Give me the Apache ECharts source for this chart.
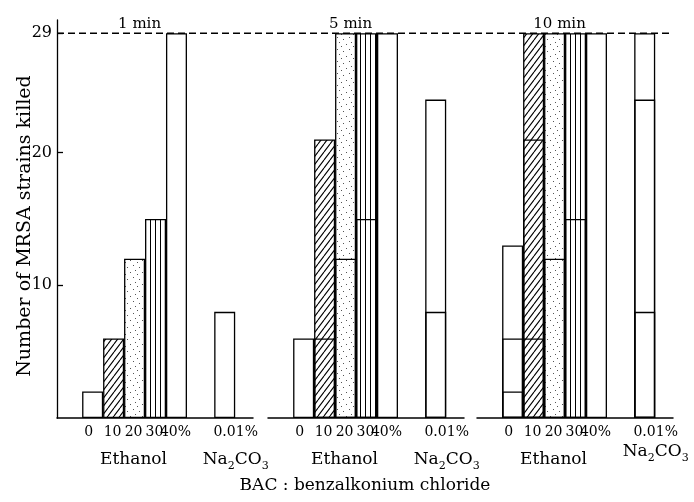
<!DOCTYPE html>
<html>
<head>
<meta charset="utf-8">
<script src="https://cdn.jsdelivr.net/npm/echarts@6/dist/echarts.min.js"></script>
<style>
  html, body { margin: 0; padding: 0; background: #fff; }
  #chart { width: 694px; height: 502px; }
</style>
</head>
<body>
<div id="chart"></div>
<script>
// ---------------- DATA ----------------
const ethanolConc = ['0', '10', '20', '30', '40%'];
const naConc = '0.01%';
const exposureTimes = ['1 min', '5 min', '10 min'];
// killed strains per bar: Ethanol 0,10,20,30,40% then Na2CO3 0.01%
const killed1min = [2, 6, 12, 15, 29, 8];
const killed5min = [6, 21, 29, 29, 29, 24];
const killed10min = [13, 29, 29, 29, 29, 29];
// inner horizontal lines drawn inside bars (earlier time values)
const lines5min_a = [null, 6, 12, 15, null, 8];
const lines10min_a = [2, 6, 12, 15, null, 8];
const lines10min_b = [6, 21, null, null, null, 24];
const totalStrains = 29;
const yTickValues = [10, 20, 29];
const yMax = 30;

// ---------------- LAYOUT ----------------
const FONT = 'DejaVu Serif';
const gridTop = 20, gridBottom = 84;
const groupLefts = [57, 268, 477];
const groupWidth = 196;
const xMin = -1.7, xMax = 7.65;
const NA_POS = 6.3;
const unit = groupWidth / (xMax - xMin);
const barW = 21;

function makeCanvas(w, h) {
  const c = document.createElement('canvas');
  c.width = w; c.height = h;
  const ctx = c.getContext('2d');
  ctx.fillStyle = '#fff'; ctx.fillRect(0, 0, w, h);
  return [c, ctx];
}
function hatchPattern() {
  const w = 6, h = 8;
  const [c, ctx] = makeCanvas(w, h);
  ctx.strokeStyle = '#000'; ctx.lineWidth = 1.1;
  ctx.beginPath();
  for (const dx of [-w, 0, w]) { ctx.moveTo(dx, h); ctx.lineTo(dx + w, 0); }
  ctx.stroke();
  return c;
}
function dotPattern() {
  const [c, ctx] = makeCanvas(12, 12);
  ctx.fillStyle = '#555';
  [[1, 1], [7, 3], [3, 6], [10, 8], [5, 10]].forEach(p => ctx.fillRect(p[0], p[1], 1, 1));
  return c;
}
function vlinePattern() {
  const [c, ctx] = makeCanvas(5, 2);
  ctx.fillStyle = '#000';
  ctx.fillRect(0, 0, 1, 2);
  return c;
}
const fills = [
  '#ffffff',
  { image: hatchPattern(), repeat: 'repeat' },
  { image: dotPattern(), repeat: 'repeat' },
  { image: vlinePattern(), repeat: 'repeat' },
  '#ffffff',
  '#ffffff'
];

function pos(i) { return i < ethanolConc.length ? i : NA_POS; }

const groups = [
  { main: killed1min, lines: [] },
  { main: killed5min, lines: [lines5min_a] },
  { main: killed10min, lines: [lines10min_a, lines10min_b] }
];

const grids = [{ left: 57, top: gridTop, width: 616, bottom: gridBottom }];
const xAxes = [{ type: 'value', min: 0, max: 1, show: false, gridIndex: 0 }];
const yAxes = [{
  type: 'value', min: 0, max: yMax, gridIndex: 0,
  axisLine: { show: true, lineStyle: { color: '#000', width: 1.3 } },
  axisTick: { show: true, inside: true, length: 6, customValues: yTickValues, lineStyle: { color: '#000', width: 1.3 } },
  axisLabel: { show: true, customValues: yTickValues, color: '#000', fontFamily: FONT, fontSize: 16, margin: 5 },
  splitLine: { show: false }
}];
const series = [{
  type: 'line', xAxisIndex: 0, yAxisIndex: 0, silent: true,
  data: [[0, totalStrains], [1, totalStrains]],
  symbol: 'none', lineStyle: { color: '#000', width: 1.5, type: [7, 4] }, z: 1
}];

const titles = [];
groups.forEach((g, gi) => {
  const idx = gi + 1;
  grids.push({ left: groupLefts[gi], width: groupWidth, top: gridTop, bottom: gridBottom });
  xAxes.push({
    type: 'value', min: xMin, max: xMax, gridIndex: idx,
    axisLine: { show: true, onZero: false, lineStyle: { color: '#000', width: 1.5 } },
    axisTick: { show: false }, axisLabel: { show: false }, splitLine: { show: false }
  });
  yAxes.push({ type: 'value', min: 0, max: yMax, gridIndex: idx, show: false, splitLine: { show: false } });

  const rich = {
    n: { fontFamily: FONT, fontSize: 14, lineHeight: 16, color: '#000' },
    e: { fontFamily: FONT, fontSize: 17, lineHeight: 40, color: '#000' },
    sp: { fontSize: 4, lineHeight: 8 },
    na: { fontFamily: FONT, fontSize: 17, lineHeight: 24, color: '#000' },
    sub: { fontFamily: FONT, fontSize: 11, lineHeight: 14, verticalAlign: 'bottom', color: '#000' }
  };
  const spacer = gi === 2 ? '' : '{sp| }\n';
  const data = g.main.map((v, i) => {
    let fmt, off;
    if (i < ethanolConc.length) {
      fmt = '{n|' + ethanolConc[i] + '}' + (i === 2 ? '\n{e|Ethanol}' : '');
      off = [i === 0 ? -4 : -1, 0];
    } else {
      fmt = '{n|' + naConc + '}\n' + spacer + '{na|Na}{sub|2}{na|CO}{sub|3}';
      off = [11, 0];
    }
    return {
      value: [pos(i), v],
      itemStyle: { color: fills[i] },
      label: { show: true, position: 'bottom', distance: 6, offset: off, formatter: fmt, rich: rich }
    };
  });
  series.push({
    type: 'bar', xAxisIndex: idx, yAxisIndex: idx, barWidth: barW, barGap: '-100%', silent: true,
    itemStyle: { borderColor: '#000', borderWidth: 1.3 },
    data: data, z: 2
  });
  g.lines.forEach(arr => {
    const d = [];
    arr.forEach((v, i) => { if (v !== null) d.push([pos(i), v]); });
    series.push({
      type: 'bar', xAxisIndex: idx, yAxisIndex: idx, barWidth: barW, barGap: '-100%', silent: true,
      itemStyle: { color: 'rgba(0,0,0,0)', borderColor: '#000', borderWidth: 1.3 },
      data: d, z: 3
    });
  });
  titles.push({
    text: exposureTimes[gi],
    left: groupLefts[gi] + (2 - xMin) * unit,
    textAlign: 'center',
    top: 12,
    textStyle: { fontFamily: FONT, fontSize: 15, fontWeight: 'normal', color: '#000' }
  });
});

const chart = echarts.init(document.getElementById('chart'), null, { renderer: 'canvas' });
chart.setOption({
  backgroundColor: '#fff',
  animation: false,
  title: titles,
  grid: grids,
  xAxis: xAxes,
  yAxis: yAxes,
  series: series,
  graphic: [
    {
      type: 'text', x: 25, y: 226, rotation: Math.PI / 2,
      style: { text: 'Number of MRSA strains killed', fontFamily: FONT, fontSize: 19, fill: '#000', align: 'center', verticalAlign: 'middle' }
    },
    {
      type: 'text', x: 365, y: 486,
      style: { text: 'BAC : benzalkonium chloride', fontFamily: FONT, fontSize: 17, fill: '#000', align: 'center', verticalAlign: 'middle' }
    }
  ]
});
</script>
</body>
</html>
